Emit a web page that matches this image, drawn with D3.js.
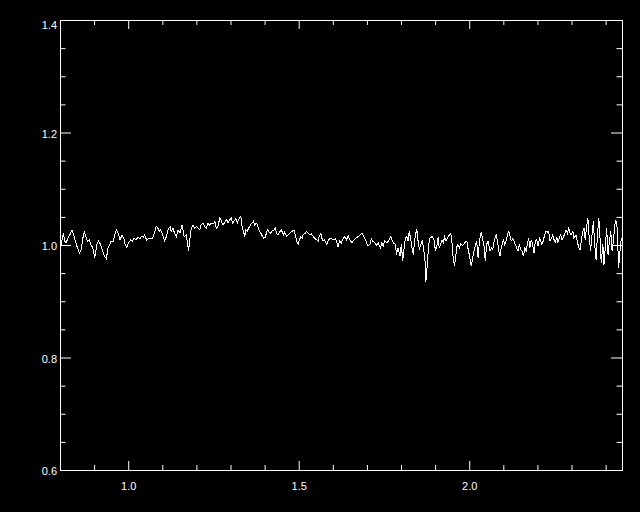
<!DOCTYPE html>
<html><head><meta charset="utf-8">
<script src="https://cdn.jsdelivr.net/npm/d3@7"></script>
<style>html,body{margin:0;padding:0;background:#000;}svg{display:block;}</style>
</head><body>
<svg id="c" width="640" height="512"></svg>
<script>
const xRange = [0.8, 2.448];
const yRange = [0.6, 1.4];
const xMajorTicks = [1.0, 1.5, 2.0];
const xMinorTicks = [0.9, 1.1, 1.2, 1.3, 1.4, 1.6, 1.7, 1.8, 1.9, 2.1, 2.2, 2.3, 2.4];
const yMajorTicks = [0.6, 0.8, 1.0, 1.2, 1.4];
const yMinorTicks = [0.65, 0.7, 0.75, 0.85, 0.9, 0.95, 1.05, 1.1, 1.15, 1.25, 1.3, 1.35];

const wave = [0.802,0.806,0.810,0.814,0.818,0.823,0.829,0.835,0.840,0.845,0.851,0.857,0.862,0.867,0.871,0.876,0.880,0.886,0.890,0.896,
0.902,0.908,0.913,0.919,0.925,0.931,0.936,0.941,0.946,0.950,0.956,0.962,0.966,0.972,0.976,0.982,0.987,0.991,0.996,1.001,
1.007,1.012,1.017,1.023,1.029,1.034,1.038,1.044,1.048,1.054,1.060,1.066,1.072,1.078,1.082,1.087,1.091,1.095,1.101,1.107,
1.112,1.117,1.123,1.126,1.131,1.136,1.141,1.146,1.152,1.158,1.164,1.170,1.173,1.177,1.181,1.185,1.190,1.195,1.200,1.205,
1.210,1.214,1.219,1.224,1.229,1.234,1.239,1.244,1.249,1.254,1.258,1.263,1.269,1.275,1.279,1.285,1.289,1.293,1.298,1.302,
1.306,1.310,1.316,1.320,1.324,1.330,1.334,1.338,1.342,1.345,1.349,1.353,1.359,1.363,1.367,1.371,1.375,1.379,1.383,1.389,
1.394,1.398,1.402,1.408,1.412,1.418,1.422,1.428,1.431,1.435,1.439,1.445,1.449,1.455,1.459,1.465,1.469,1.474,1.480,1.486,
1.490,1.494,1.498,1.502,1.506,1.510,1.513,1.519,1.523,1.527,1.533,1.537,1.543,1.547,1.553,1.557,1.560,1.565,1.568,1.572,
1.576,1.582,1.586,1.590,1.596,1.601,1.607,1.611,1.615,1.620,1.625,1.630,1.635,1.640,1.645,1.650,1.656,1.662,1.668,1.674,
1.680,1.686,1.691,1.697,1.703,1.709,1.713,1.717,1.723,1.729,1.733,1.736,1.740,1.744,1.748,1.752,1.758,1.764,1.770,1.774,
1.777,1.783,1.787,1.791,1.797,1.801,1.805,1.809,1.813,1.817,1.821,1.824,1.828,1.832,1.836,1.840,1.846,1.850,1.854,1.858,
1.862,1.865,1.870,1.873,1.877,1.881,1.885,1.891,1.897,1.901,1.905,1.909,1.912,1.916,1.920,1.924,1.928,1.932,1.936,1.942,
1.946,1.950,1.953,1.957,1.961,1.965,1.971,1.975,1.981,1.987,1.993,1.996,2.002,2.006,2.010,2.016,2.022,2.026,2.030,2.035,
2.040,2.043,2.047,2.051,2.055,2.061,2.065,2.069,2.073,2.079,2.082,2.087,2.090,2.094,2.100,2.104,2.108,2.112,2.116,2.120,
2.123,2.128,2.131,2.135,2.139,2.143,2.147,2.151,2.155,2.159,2.163,2.167,2.170,2.174,2.178,2.182,2.186,2.190,2.194,2.198,
2.202,2.206,2.210,2.213,2.217,2.221,2.225,2.229,2.233,2.237,2.241,2.245,2.249,2.252,2.257,2.260,2.264,2.268,2.272,2.276,
2.280,2.284,2.288,2.292,2.296,2.299,2.304,2.307,2.313,2.317,2.321,2.325,2.329,2.333,2.337,2.340,2.345,2.348,2.352,2.356,
2.360,2.364,2.368,2.372,2.376,2.380,2.384,2.387,2.392,2.395,2.399,2.403,2.407,2.411,2.415,2.419,2.423,2.427,2.430,2.434,
2.438,2.442,2.446];

const flux = [0.998,1.009,1.021,1.007,1.004,1.012,1.018,1.027,1.018,1.007,0.995,0.986,0.992,1.012,1.023,1.015,1.007,1.009,1.001,0.995,
0.977,1.001,1.007,1.001,0.989,0.980,0.976,0.995,1.001,1.007,1.007,1.021,1.027,1.018,1.009,1.018,1.012,1.001,0.995,1.004,
1.009,1.007,1.012,1.009,1.014,1.011,1.015,1.014,1.018,1.009,1.012,1.011,1.012,1.024,1.033,1.030,1.024,1.027,1.018,1.007,
1.015,1.027,1.033,1.024,1.030,1.021,1.015,1.027,1.021,1.036,1.015,1.018,1.007,0.990,1.012,1.030,1.036,1.030,1.033,1.030,
1.027,1.036,1.039,1.033,1.030,1.039,1.035,1.039,1.037,1.042,1.030,1.033,1.049,1.039,1.036,1.042,1.045,1.039,1.045,1.049,
1.039,1.042,1.047,1.039,1.045,1.051,1.033,1.024,1.015,1.027,1.024,1.030,1.036,1.039,1.042,1.036,1.039,1.036,1.027,1.021,
1.015,1.012,1.014,1.027,1.024,1.021,1.025,1.027,1.031,1.021,1.018,1.024,1.027,1.018,1.023,1.015,1.018,1.021,1.024,1.027,
1.018,1.007,1.001,1.009,1.015,1.012,1.018,1.021,1.024,1.021,1.018,1.020,1.015,1.012,1.009,1.007,1.015,1.020,1.012,1.007,
1.009,1.001,1.007,1.011,1.012,1.009,1.011,1.007,0.996,1.007,1.004,1.011,1.015,1.009,1.017,1.009,1.004,1.009,1.012,1.015,
1.018,1.021,1.015,1.007,0.998,1.001,1.011,1.007,1.004,0.999,1.004,0.999,0.995,1.004,0.998,1.007,1.004,1.008,1.015,1.009,
1.004,1.001,0.983,0.995,0.980,1.001,0.971,0.995,1.012,1.015,1.007,1.024,1.012,0.995,0.983,1.009,1.029,1.007,0.992,1.001,
1.007,0.998,0.977,0.935,0.965,1.001,1.012,1.015,1.009,0.989,0.998,1.015,0.995,1.001,1.009,1.004,1.015,1.007,1.012,1.018,
1.021,1.001,0.977,0.962,0.983,1.001,0.995,1.002,0.999,1.004,1.007,0.995,0.977,0.962,0.977,0.995,1.007,0.977,1.007,1.023,
1.009,1.001,0.971,1.001,1.007,0.989,0.995,0.992,1.007,1.018,1.009,0.989,0.980,0.995,1.009,1.001,1.007,1.018,1.024,1.015,
1.007,1.012,1.007,1.001,0.995,0.989,1.001,0.992,0.989,0.980,0.995,0.989,1.001,1.012,0.995,1.009,1.001,0.986,1.007,1.009,
0.998,1.012,1.007,1.001,1.007,1.018,1.025,1.023,1.024,1.007,1.012,1.018,1.009,1.004,1.014,1.004,1.012,1.018,1.009,1.014,
1.020,1.027,1.021,1.030,1.021,1.018,1.024,1.012,1.018,1.007,0.995,0.992,1.009,1.024,1.030,1.009,1.036,1.048,1.012,0.989,
1.018,1.042,1.001,0.974,1.018,1.048,1.007,0.968,1.001,0.965,0.995,1.030,0.983,1.007,1.024,0.989,1.009,1.036,1.045,1.030,
0.959,0.989,1.012];

const W = 640, H = 512;
const L = 60, R = 622, T = 20, B = 470;
const svg = d3.select('#c');
svg.append('rect').attr('width', W).attr('height', H).attr('fill', '#000');

const x = d3.scaleLinear().domain(xRange).range([L, R]);
const y = d3.scaleLinear().domain(yRange).range([B, T]);

const font = '"Liberation Sans", Arial, sans-serif';
function styleAxis(g) {
  g.select('.domain').remove();
  g.selectAll('line').attr('stroke', '#fff').attr('stroke-width', 1);
  g.selectAll('text').attr('fill', '#fff').attr('font-family', font).attr('font-size', 11);
}

// bottom
const xb = svg.append('g').attr('transform', `translate(0,${B})`)
  .call(d3.axisBottom(x).tickValues(xMajorTicks).tickSize(-9).tickPadding(12).tickFormat(d3.format('.1f')));
styleAxis(xb);
const xbm = svg.append('g').attr('transform', `translate(0,${B})`)
  .call(d3.axisBottom(x).tickValues(xMinorTicks).tickSize(-5).tickFormat(''));
styleAxis(xbm);
// top
const xt = svg.append('g').attr('transform', `translate(0,${T})`)
  .call(d3.axisTop(x).tickValues(xMajorTicks).tickSize(-9).tickFormat(''));
styleAxis(xt);
const xtm = svg.append('g').attr('transform', `translate(0,${T})`)
  .call(d3.axisTop(x).tickValues(xMinorTicks).tickSize(-5).tickFormat(''));
styleAxis(xtm);
// left
const yl = svg.append('g').attr('transform', `translate(${L},0)`)
  .call(d3.axisLeft(y).tickValues(yMajorTicks).tickSize(-11).tickPadding(3).tickFormat(d3.format('.1f')));
styleAxis(yl);
yl.selectAll('.tick text').attr('dy', (d) => d === yRange[1] ? '0.75em' : '0.45em');
const ylm = svg.append('g').attr('transform', `translate(${L},0)`)
  .call(d3.axisLeft(y).tickValues(yMinorTicks).tickSize(-5.5).tickFormat(''));
styleAxis(ylm);
// right
const yr = svg.append('g').attr('transform', `translate(${R},0)`)
  .call(d3.axisRight(y).tickValues(yMajorTicks).tickSize(-11).tickFormat(''));
styleAxis(yr);
const yrm = svg.append('g').attr('transform', `translate(${R},0)`)
  .call(d3.axisRight(y).tickValues(yMinorTicks).tickSize(-5.5).tickFormat(''));
styleAxis(yrm);

// frame
svg.append('rect').attr('x', L + 0.5).attr('y', T + 0.5).attr('width', R - L).attr('height', B - T)
  .attr('fill', 'none').attr('stroke', '#fff').attr('stroke-width', 1);

// spectrum
const data = wave.map((w, i) => [w, flux[i]]);
svg.append('path').datum(data)
  .attr('fill', 'none').attr('stroke', '#fff').attr('stroke-width', 1)
  .attr('shape-rendering', 'crispEdges')
  .attr('d', d3.line().x(d => x(d[0])).y(d => y(d[1])));
</script>
</body></html>
